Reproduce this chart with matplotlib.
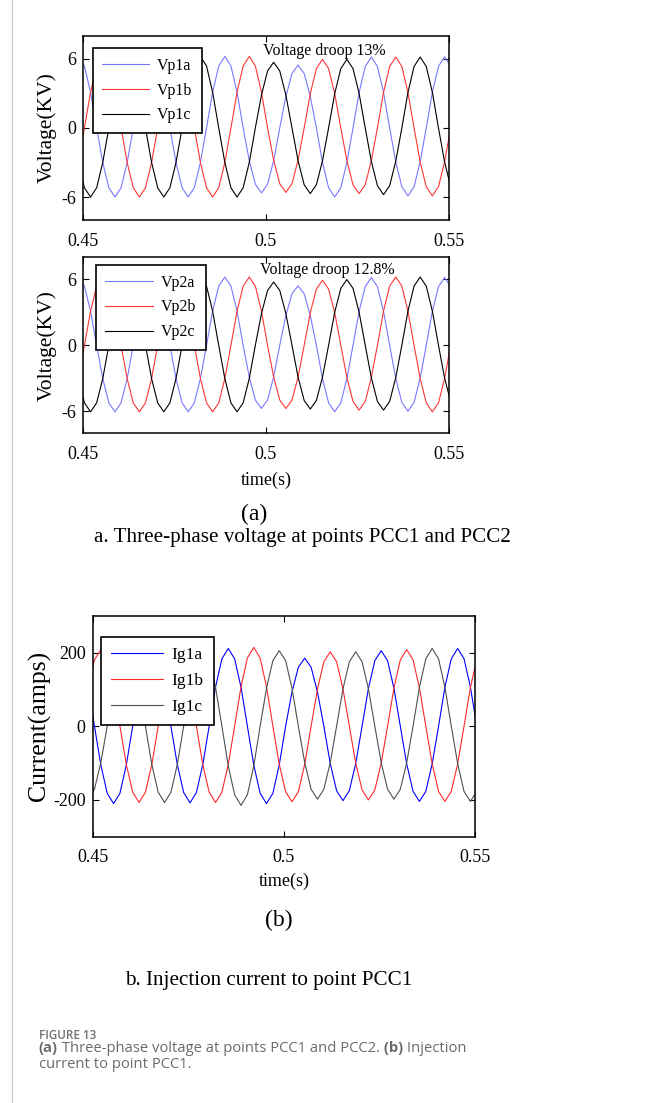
import numpy as np
import matplotlib
matplotlib.use("Agg")
import matplotlib.pyplot as plt
from matplotlib.lines import Line2D

plt.rcParams['font.family'] = ['Liberation Serif', 'DejaVu Serif']

# recorded waveforms, 12 samples per 50 Hz cycle
t_start = 0.4488
t_step = 0.02 / 12
time_s = t_start + t_step * np.arange(62)

# PCC1 voltages (kV)
vp1a = [6.2, 5.37, 3.1, 0, -3.0, -5.2, -6.0, -5.2, -3.0, 0, 3.1, 5.37,
        6.2, 5.37, 3.1, 0, -3.0, -5.2, -6.0, -5.2, -3.0, 0, 3.1, 5.37,
        6.2, 5.37, 3.1, 0, -2.83, -4.89, -5.65, -4.89, -2.83, 0, 2.73, 4.72,
        5.45, 4.72, 2.73, 0, -3.0, -5.2, -6.0, -5.2, -3.0, 0, 3.08, 5.33,
        6.15, 5.33, 3.08, 0, -2.95, -5.11, -5.9, -5.11, -2.95, 0, 3.09, 5.34,
        6.17, 5.34]
vp1b = [-3.0, 0, 3.1, 5.37, 6.2, 5.37, 3.1, 0, -3.0, -5.2, -6.0, -5.2,
        -3.0, 0, 3.1, 5.37, 6.2, 5.37, 3.1, 0, -3.0, -5.2, -6.0, -5.2,
        -3.0, 0, 3.1, 5.37, 6.2, 5.37, 3.1, 0, -2.8, -4.85, -5.6, -4.85,
        -2.8, 0, 2.98, 5.15, 5.95, 5.15, 2.98, 0, -2.85, -4.94, -5.7, -4.94,
        -2.85, 0, 3.08, 5.33, 6.15, 5.33, 3.08, 0, -2.95, -5.11, -5.9, -5.11,
        -2.95, 0]
vp1c = [-3.0, -5.2, -6.0, -5.2, -3.0, 0, 3.1, 5.37, 6.2, 5.37, 3.1, 0,
        -3.0, -5.2, -6.0, -5.2, -3.0, 0, 3.1, 5.37, 6.2, 5.37, 3.1, 0,
        -3.0, -5.2, -6.0, -5.2, -3.0, 0, 2.85, 4.94, 5.7, 4.94, 2.85, 0,
        -2.85, -4.94, -5.7, -4.94, -2.85, 0, 2.98, 5.15, 5.95, 5.15, 2.98, 0,
        -2.9, -5.02, -5.8, -5.02, -2.9, 0, 3.08, 5.33, 6.15, 5.33, 3.08, 0,
        -2.95, -5.11]

# PCC2 voltages (kV)
vp2a = [6.2, 5.37, 3.1, 0, -3.03, -5.24, -6.05, -5.24, -3.03, 0, 3.1, 5.37,
        6.2, 5.37, 3.1, 0, -3.03, -5.24, -6.05, -5.24, -3.03, 0, 3.1, 5.37,
        6.2, 5.37, 3.1, 0, -2.88, -4.98, -5.75, -4.98, -2.88, 0, 2.7, 4.68,
        5.4, 4.68, 2.7, 0, -3.03, -5.24, -6.05, -5.24, -3.03, 0, 3.08, 5.33,
        6.15, 5.33, 3.08, 0, -3.0, -5.2, -6.0, -5.2, -3.0, 0, 3.08, 5.33,
        6.15, 5.33]
vp2b = [-3.03, 0, 3.1, 5.37, 6.2, 5.37, 3.1, 0, -3.03, -5.24, -6.05, -5.24,
        -3.03, 0, 3.1, 5.37, 6.2, 5.37, 3.1, 0, -3.03, -5.24, -6.05, -5.24,
        -3.03, 0, 3.1, 5.37, 6.2, 5.37, 3.1, 0, -2.88, -4.98, -5.75, -4.98,
        -2.88, 0, 2.95, 5.11, 5.9, 5.11, 2.95, 0, -2.95, -5.11, -5.9, -5.11,
        -2.95, 0, 3.1, 5.37, 6.2, 5.37, 3.1, 0, -3.03, -5.24, -6.05, -5.24,
        -3.03, 0]
vp2c = [-3.03, -5.24, -6.05, -5.24, -3.03, 0, 3.1, 5.37, 6.2, 5.37, 3.1, 0,
        -3.03, -5.24, -6.05, -5.24, -3.03, 0, 3.1, 5.37, 6.2, 5.37, 3.1, 0,
        -3.03, -5.24, -6.05, -5.24, -3.03, 0, 2.88, 4.98, 5.75, 4.98, 2.88, 0,
        -2.9, -5.02, -5.8, -5.02, -2.9, 0, 2.99, 5.17, 5.97, 5.17, 2.99, 0,
        -2.95, -5.11, -5.9, -5.11, -2.95, 0, 3.1, 5.37, 6.2, 5.37, 3.1, 0,
        -2.98, -5.15]

# injection current at PCC1 (A)
ig1a = [105, 0, -105, -182, -210, -182, -105, 0, 105, 182, 210, 182,
        105, 0, -104, -180, -208, -180, -104, 0, 106, 183, 211, 183,
        106, 0, -105, -182, -210, -182, -105, 0, 93, 160, 185, 160,
        93, 0, -101, -175, -202, -175, -101, 0, 103, 178, 205, 178,
        103, 0, -102, -177, -204, -177, -102, 0, 106, 183, 211, 183,
        106, 0]
ig1b = [104, 180, 208, 180, 104, 0, -104, -179, -207, -179, -104, 0,
        105, 182, 210, 182, 105, 0, -104, -179, -207, -179, -104, 0,
        107, 185, 214, 185, 107, 0, -103, -178, -205, -178, -103, 0,
        101, 175, 202, 175, 101, 0, -100, -173, -200, -173, -100, 0,
        104, 180, 208, 180, 104, 0, -102, -177, -204, -177, -102, 0,
        105, 182]
ig1c = [-198, -171, -99, 0, 106, 183, 211, 183, 106, 0, -104, -179,
        -207, -179, -104, 0, 106, 183, 211, 183, 106, 0, -108, -186,
        -215, -186, -108, 0, 103, 178, 205, 178, 103, 0, -99, -171,
        -198, -171, -99, 0, 101, 175, 202, 175, 101, 0, -99, -171,
        -198, -171, -99, 0, 106, 183, 211, 183, 106, 0, -102, -177,
        -204, -177]

x_ticks = [0.45, 0.5, 0.55]
x_tick_labels = ['0.45', '0.5', '0.55']
v_ticks = [-6, 0, 6]
v_tick_labels = ['-6', '0', '6']
i_ticks = [-200, 0, 200]
i_tick_labels = ['-200', '0', '200']

v_colors = ['#7878ff', '#ff3535', '#000000']
i_colors = ['#0000ff', '#ff2a2a', '#505050']


def style_axes(ax, yticks, yticklabels, ylim):
    ax.set_xlim(0.45, 0.55)
    ax.set_ylim(*ylim)
    ax.set_xticks(x_ticks)
    ax.set_xticklabels(x_tick_labels)
    ax.set_yticks(yticks)
    ax.set_yticklabels(yticklabels)
    ax.tick_params(direction='in', top=True, right=True, length=4, width=0.8,
                   labelsize=13, pad=5)
    ax.tick_params(axis='x', pad=9)
    for sp in ax.spines.values():
        sp.set_linewidth(1.1)


def add_legend(ax, anchor, size):
    leg = ax.legend(loc='upper left', bbox_to_anchor=anchor, borderaxespad=0,
                    fancybox=False, edgecolor='black', framealpha=1,
                    fontsize=size, handlelength=2.95, handletextpad=0.5,
                    labelspacing=0.55, borderpad=0.6)
    leg.get_frame().set_linewidth(1.2)


fig = plt.figure(figsize=(6.54, 11.03), dpi=100)

# (a) top: PCC1 voltage
ax1 = fig.add_axes([0.1265, 0.8005, 0.560, 0.1671])
for y, c, lab in zip([vp1a, vp1b, vp1c], v_colors, ['Vp1a', 'Vp1b', 'Vp1c']):
    ax1.plot(time_s, y, color=c, lw=0.8, label=lab)
style_axes(ax1, v_ticks, v_tick_labels, (-8, 8))
ax1.set_ylabel('Voltage(KV)', fontsize=15.5, va='center')
ax1.yaxis.set_label_coords(-0.0975, 0.5)
add_legend(ax1, (0.027, 0.932), 11.5)
ax1.text(0.4993, 6.67, 'Voltage droop 13%', fontsize=11.5, va='center')

# (a) bottom: PCC2 voltage
ax2 = fig.add_axes([0.1265, 0.6072, 0.560, 0.1596])
for y, c, lab in zip([vp2a, vp2b, vp2c], v_colors, ['Vp2a', 'Vp2b', 'Vp2c']):
    ax2.plot(time_s, y, color=c, lw=0.8, label=lab)
style_axes(ax2, v_ticks, v_tick_labels, (-8, 8))
ax2.set_ylabel('Voltage(KV)', fontsize=15.5, va='center')
ax2.yaxis.set_label_coords(-0.0975, 0.5)
ax2.set_xlabel('time(s)', fontsize=13)
ax2.xaxis.set_label_coords(0.5, -0.265)
ax2.xaxis.label.set_va('center')
add_legend(ax2, (0.036, 0.956), 11.5)
ax2.text(0.4985, 6.8, 'Voltage droop 12.8%', fontsize=11.5, va='center')

# (b) injection current
ax3 = fig.add_axes([0.1417, 0.2414, 0.5846, 0.2004])
for y, c, lab in zip([ig1a, ig1b, ig1c], i_colors, ['Ig1a', 'Ig1b', 'Ig1c']):
    ax3.plot(time_s, y, color=c, lw=0.8, label=lab)
style_axes(ax3, i_ticks, i_tick_labels, (-300, 300))
ax3.set_ylabel('Current(amps)', fontsize=18.5, va='center')
ax3.yaxis.set_label_coords(-0.14, 0.5)
ax3.set_xlabel('time(s)', fontsize=13)
ax3.xaxis.set_label_coords(0.5, -0.204)
ax3.xaxis.label.set_va('center')
add_legend(ax3, (0.0217, 0.905), 12.5)

# sub captions
H = 1103.0
W = 654.0
fig.text(254 / W, 1 - 514 / H, '(a)', fontsize=17, ha='center', va='center')
fig.text(302.5 / W, 1 - 537 / H, 'a. Three-phase voltage at points PCC1 and PCC2',
         fontsize=15.2, ha='center', va='center')
fig.text(278.7 / W, 1 - 920 / H, '(b)', fontsize=17, ha='center', va='center')
fig.text(268.8 / W, 1 - 981 / H, 'b. Injection current to point PCC1',
         fontsize=15.2, ha='center', va='center')

# journal figure caption
cap_kw = dict(family='Open Sans', fontsize=10.6, color='#6a6a6a', va='baseline')
fig.text(38.7 / W, 1 - 1039.3 / H, 'FIGURE 13', family='Open Sans', fontsize=8.4,
         color='#707070', va='baseline', weight='semibold')
renderer = fig.canvas.get_renderer()
x = 38.7
for part, bold in [('(a)', True), (' Three-phase voltage at points PCC1 and PCC2.', False),
                   (' (b)', True), (' Injection', False)]:
    t = fig.text(x / W, 1 - 1051.7 / H, part, weight='bold' if bold else 'normal', **cap_kw)
    x = t.get_window_extent(renderer).x1
fig.text(38.7 / W, 1 - 1067.5 / H, 'current to point PCC1.', **cap_kw)

# page border on the left
fig.add_artist(Line2D([12 / W, 12 / W], [0, 1], color='#d0d0d0', lw=1))

fig.savefig('out.png', dpi=100)
